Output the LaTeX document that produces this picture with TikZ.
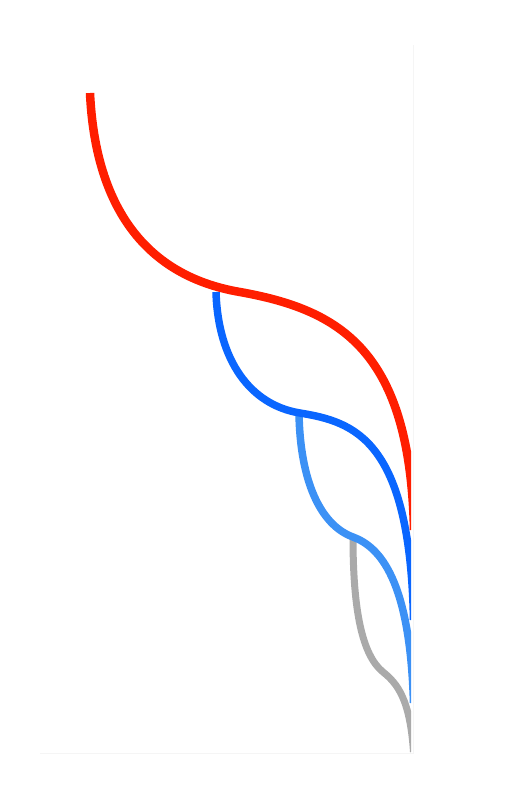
\documentclass[tikz,border=0pt]{standalone}
\begin{document}
\begin{tikzpicture}[x=1pt,y=-1pt,
  curvered/.style={draw=cRed,line width=8.5pt},
  curveblue/.style={draw=cBlue,line width=7.5pt},
  curvelight/.style={draw=cLight,line width=7.5pt},
  curvegray/.style={draw=cGray,line width=7pt},
  faintaxis/.style={draw=black!4,line width=0.8pt}]
\definecolor{cRed}{RGB}{255,30,0}
\definecolor{cBlue}{RGB}{10,102,255}
\definecolor{cLight}{RGB}{60,145,245}
\definecolor{cGray}{RGB}{170,170,170}
\useasboundingbox (0,0) rectangle (529,812);
% faint axes
\draw[faintaxis] (413,45) -- (413,753) -- (40,753);
% junction coordinates
\coordinate (r0) at (90,93);
\coordinate (j1) at (240,292);
\coordinate (rk) at (414,530);
\coordinate (b0) at (216,292);
\coordinate (j2) at (300,413);
\coordinate (bk) at (413.5,620);
\coordinate (l0) at (299,413);
\coordinate (j3) at (353,537);
\coordinate (lk) at (413.5,703);
\coordinate (g0) at (353,537);
\coordinate (j4) at (383,672);
\coordinate (gk) at (413.5,752);
\begin{scope}
\clip (0,0) rectangle (411.2,812);
% gray
\draw[curvegray] (g0) .. controls (353,610) and (362,655) .. (j4)
  .. controls (398,684) and (410,700) .. (gk);
% light blue
\draw[curvelight] (l0) .. controls (300,480) and (320,525) .. (j3)
  .. controls (380,547) and (410,580) .. (lk);
% dark blue
\draw[curveblue] (b0) .. controls (218,360) and (250,405) .. (j2)
  .. controls (355,422) and (410,440) .. (bk);
% red
\draw[curvered] (r0) .. controls (95,200) and (140,275) .. (j1)
  .. controls (340,310) and (410,350) .. (rk);
\end{scope}
\end{tikzpicture}
\end{document}
